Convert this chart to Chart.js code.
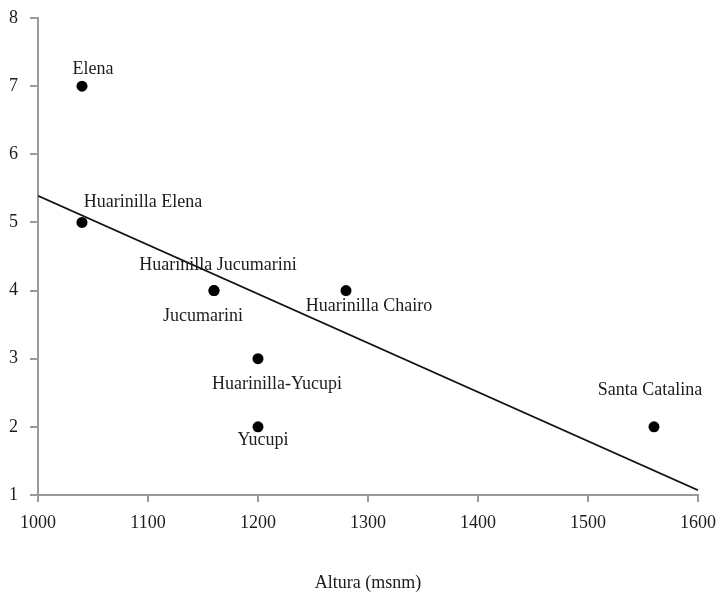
<!DOCTYPE html>
<html>
<head>
<meta charset="utf-8">
<script src="https://cdn.jsdelivr.net/npm/chart.js@4/dist/chart.umd.min.js"></script>
<style>
  html, body { margin: 0; padding: 0; background: #fff; }
  #wrap { width: 721px; height: 592px; }
</style>
</head>
<body>
<div id="wrap"><canvas id="c" width="721" height="592"></canvas></div>
<script>
// Sampling sites: altitude (m a.s.l.) and observed value
const sites = ['Elena', 'Huarinilla Elena', 'Huarinilla Jucumarini', 'Jucumarini',
               'Huarinilla Chairo', 'Huarinilla-Yucupi', 'Yucupi', 'Santa Catalina'];
const altitude = [1040, 1040, 1160, 1160, 1280, 1200, 1200, 1560];
const values = [7, 5, 4, 4, 4, 3, 2, 2];

// Linear trend line end points
const trendX = [1000, 1600];
const trendY = [5.39, 1.07];

// Axis ranges and tick steps
const xTicks = { min: 1000, max: 1600, step: 100 };
const yTicks = { min: 1, max: 8, step: 1 };
const xTitle = 'Altura (msnm)';

// Pixel offsets of each site name from its marker
const labelOffsets = [
  [11, -17], [61, -20], [4, -25], [-11, 26],
  [23, 16], [19, 26], [5, 13], [-4, -37]
];

const FONT = "'Liberation Serif', 'Times New Roman', serif";
const AXIS = '#9a9a9a';
const INK = '#1c1c1c';

const siteLabels = {
  id: 'siteLabels',
  afterDatasetsDraw(chart) {
    const meta = chart.getDatasetMeta(1);
    const ctx = chart.ctx;
    ctx.save();
    ctx.font = '18px ' + FONT;
    ctx.fillStyle = INK;
    ctx.textAlign = 'center';
    ctx.textBaseline = 'middle';
    meta.data.forEach((pt, i) => {
      const [dx, dy] = labelOffsets[i];
      ctx.fillText(sites[i], pt.x + dx, pt.y + dy);
    });
    ctx.restore();
  }
};

new Chart(document.getElementById('c'), {
  type: 'scatter',
  data: {
    datasets: [
      {
        data: trendX.map((x, i) => ({ x, y: trendY[i] })),
        showLine: true,
        borderColor: '#111',
        borderWidth: 1.6,
        pointRadius: 0,
        fill: false
      },
      {
        data: altitude.map((x, i) => ({ x, y: values[i] })),
        backgroundColor: '#000',
        borderColor: '#000',
        pointRadius: 5.5,
        pointBorderWidth: 0
      }
    ]
  },
  options: {
    responsive: false,
    animation: false,
    layout: { padding: { left: 0, right: 23, top: 18, bottom: 0 } },
    plugins: { legend: { display: false }, tooltip: { enabled: false } },
    scales: {
      x: {
        type: 'linear',
        min: xTicks.min, max: xTicks.max,
        afterFit(s) { s.height = 97; s.paddingLeft = 0; s.paddingRight = 0; },
        ticks: {
          stepSize: xTicks.step, color: INK, font: { family: FONT, size: 18 }, padding: 10, maxRotation: 0,
          callback: (v) => String(v)
        },
        grid: { drawOnChartArea: false, drawTicks: true, tickLength: 7, color: AXIS, lineWidth: 2 },
        border: { display: true, color: AXIS, width: 2 },
        title: { display: true, text: xTitle, color: INK, font: { family: FONT, size: 18 }, padding: { top: 0, bottom: -2 } }
      },
      y: {
        type: 'linear',
        min: yTicks.min, max: yTicks.max,
        afterFit(s) { s.width = 38; s.paddingTop = 0; s.paddingBottom = 0; },
        ticks: { stepSize: yTicks.step, color: INK, font: { family: FONT, size: 18 }, padding: 12, callback: (v) => String(v) },
        grid: { drawOnChartArea: false, drawTicks: true, tickLength: 8, color: AXIS, lineWidth: 2 },
        border: { display: true, color: AXIS, width: 2 }
      }
    }
  },
  plugins: [siteLabels]
});
</script>
</body>
</html>
